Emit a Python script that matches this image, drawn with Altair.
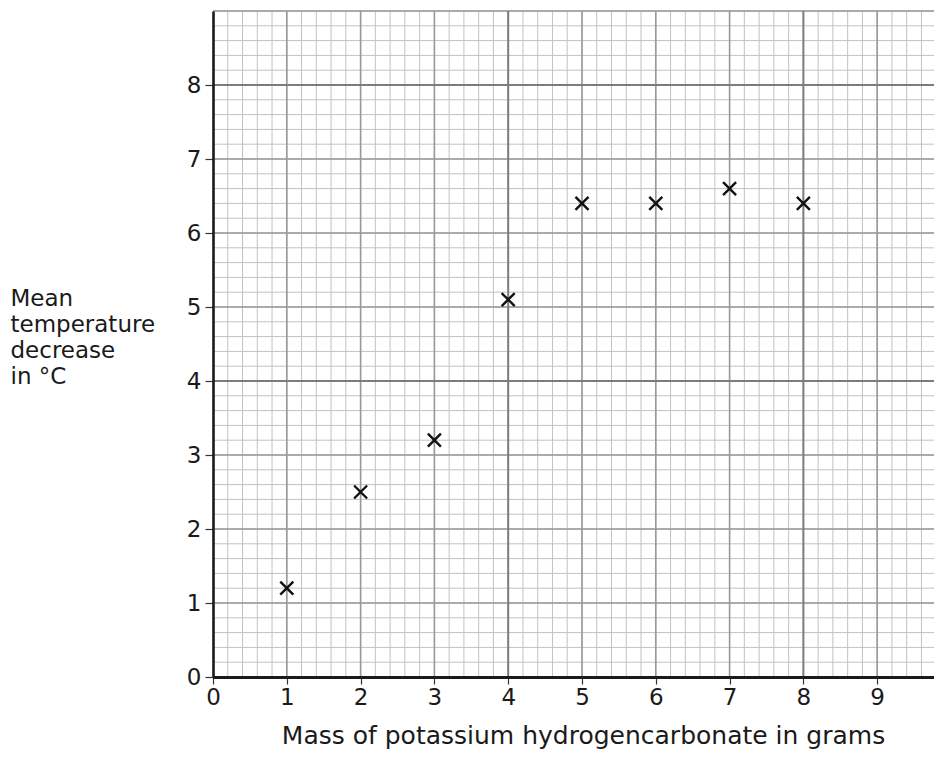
import altair as alt
import pandas as pd

# ---- data ----
mass = [1, 2, 3, 4, 5, 6, 7, 8]
temp_decrease = [1.2, 2.5, 3.2, 5.1, 6.4, 6.4, 6.6, 6.4]

x_ticks = [0, 1, 2, 3, 4, 5, 6, 7, 8, 9]
y_ticks = [0, 1, 2, 3, 4, 5, 6, 7, 8]

x_title = "Mass of potassium hydrogencarbonate in grams"
y_title = ["Mean", "temperature", "decrease", "in °C"]

X_MAX = 9.77
Y_MAX = 9

# graph-paper grid positions (axis lines themselves are drawn by the axes)
x_minor = [round(i * 0.2, 1) for i in range(1, 49)]
y_minor = [round(i * 0.2, 1) for i in range(1, 46)]
x_major = [v for v in range(1, 10) if v not in (4, 8)]
y_major = [v for v in range(1, 10) if v not in (4, 8)]
heavy = [4, 8]

FONT = "DejaVu Sans"
INK = "#1a1a1a"

xs = alt.Scale(domain=[0, X_MAX], nice=False, zero=False)
ys = alt.Scale(domain=[0, Y_MAX], nice=False, zero=False)

x_axis = alt.Axis(
    values=x_ticks,
    format="d",
    grid=False,
    title=x_title,
    domainColor=INK,
    domainWidth=3,
    tickColor="#333333",
    tickSize=7,
    tickWidth=1.2,
    labelFont=FONT,
    labelFontSize=23,
    labelColor=INK,
    labelPadding=2,
    labelFlush=False,
    titleFont=FONT,
    titleFontSize=25,
    titleFontWeight="normal",
    titleColor=INK,
    titleX=370,
    titleY=66,
    titleBaseline="alphabetic",
    titleAlign="center",
    zindex=1,
)

y_axis = alt.Axis(
    values=y_ticks,
    format="d",
    grid=False,
    title=y_title,
    domainColor=INK,
    domainWidth=2.6,
    tickColor="#333333",
    tickSize=8,
    tickWidth=1.2,
    labelFont=FONT,
    labelFontSize=23,
    labelColor=INK,
    labelPadding=4,
    labelFlush=False,
    titleFont=FONT,
    titleFontSize=23,
    titleFontWeight="normal",
    titleColor=INK,
    titleAngle=0,
    titleAlign="left",
    titleBaseline="alphabetic",
    titleX=-203,
    titleY=294,
    titleLineHeight=26,
    zindex=1,
)


def vrules(vals, color, w):
    return alt.Chart(pd.DataFrame({"v": vals})).mark_rule(
        color=color, strokeWidth=w
    ).encode(x=alt.X("v:Q", scale=xs, axis=x_axis))


def hrules(vals, color, w):
    return alt.Chart(pd.DataFrame({"v": vals})).mark_rule(
        color=color, strokeWidth=w
    ).encode(y=alt.Y("v:Q", scale=ys, axis=y_axis))


points = alt.Chart(pd.DataFrame({"mass": mass, "temp": temp_decrease})).mark_point(
    shape="M-1,-1L1,1M1,-1L-1,1",
    size=170,
    filled=False,
    strokeWidth=2.4,
    color="#111111",
    opacity=1,
).encode(
    x=alt.X("mass:Q", scale=xs, axis=x_axis),
    y=alt.Y("temp:Q", scale=ys, axis=y_axis),
)

chart = alt.layer(
    vrules(x_minor, "#c2c2c2", 1),
    hrules(y_minor, "#c2c2c2", 1),
    vrules(x_major, "#999999", 1.6),
    hrules(y_major, "#999999", 1.6),
    vrules(heavy, "#7c7c7c", 2),
    hrules(heavy, "#7c7c7c", 2),
    points,
).properties(
    width=721,
    height=666,
    autosize=alt.AutoSizeParams(type="none"),
    padding={"left": 205, "top": 3, "right": 0, "bottom": 72},
    background="white",
).configure_view(stroke=None)

chart.save("out.html", embed_options={"renderer": "svg", "actions": False})
